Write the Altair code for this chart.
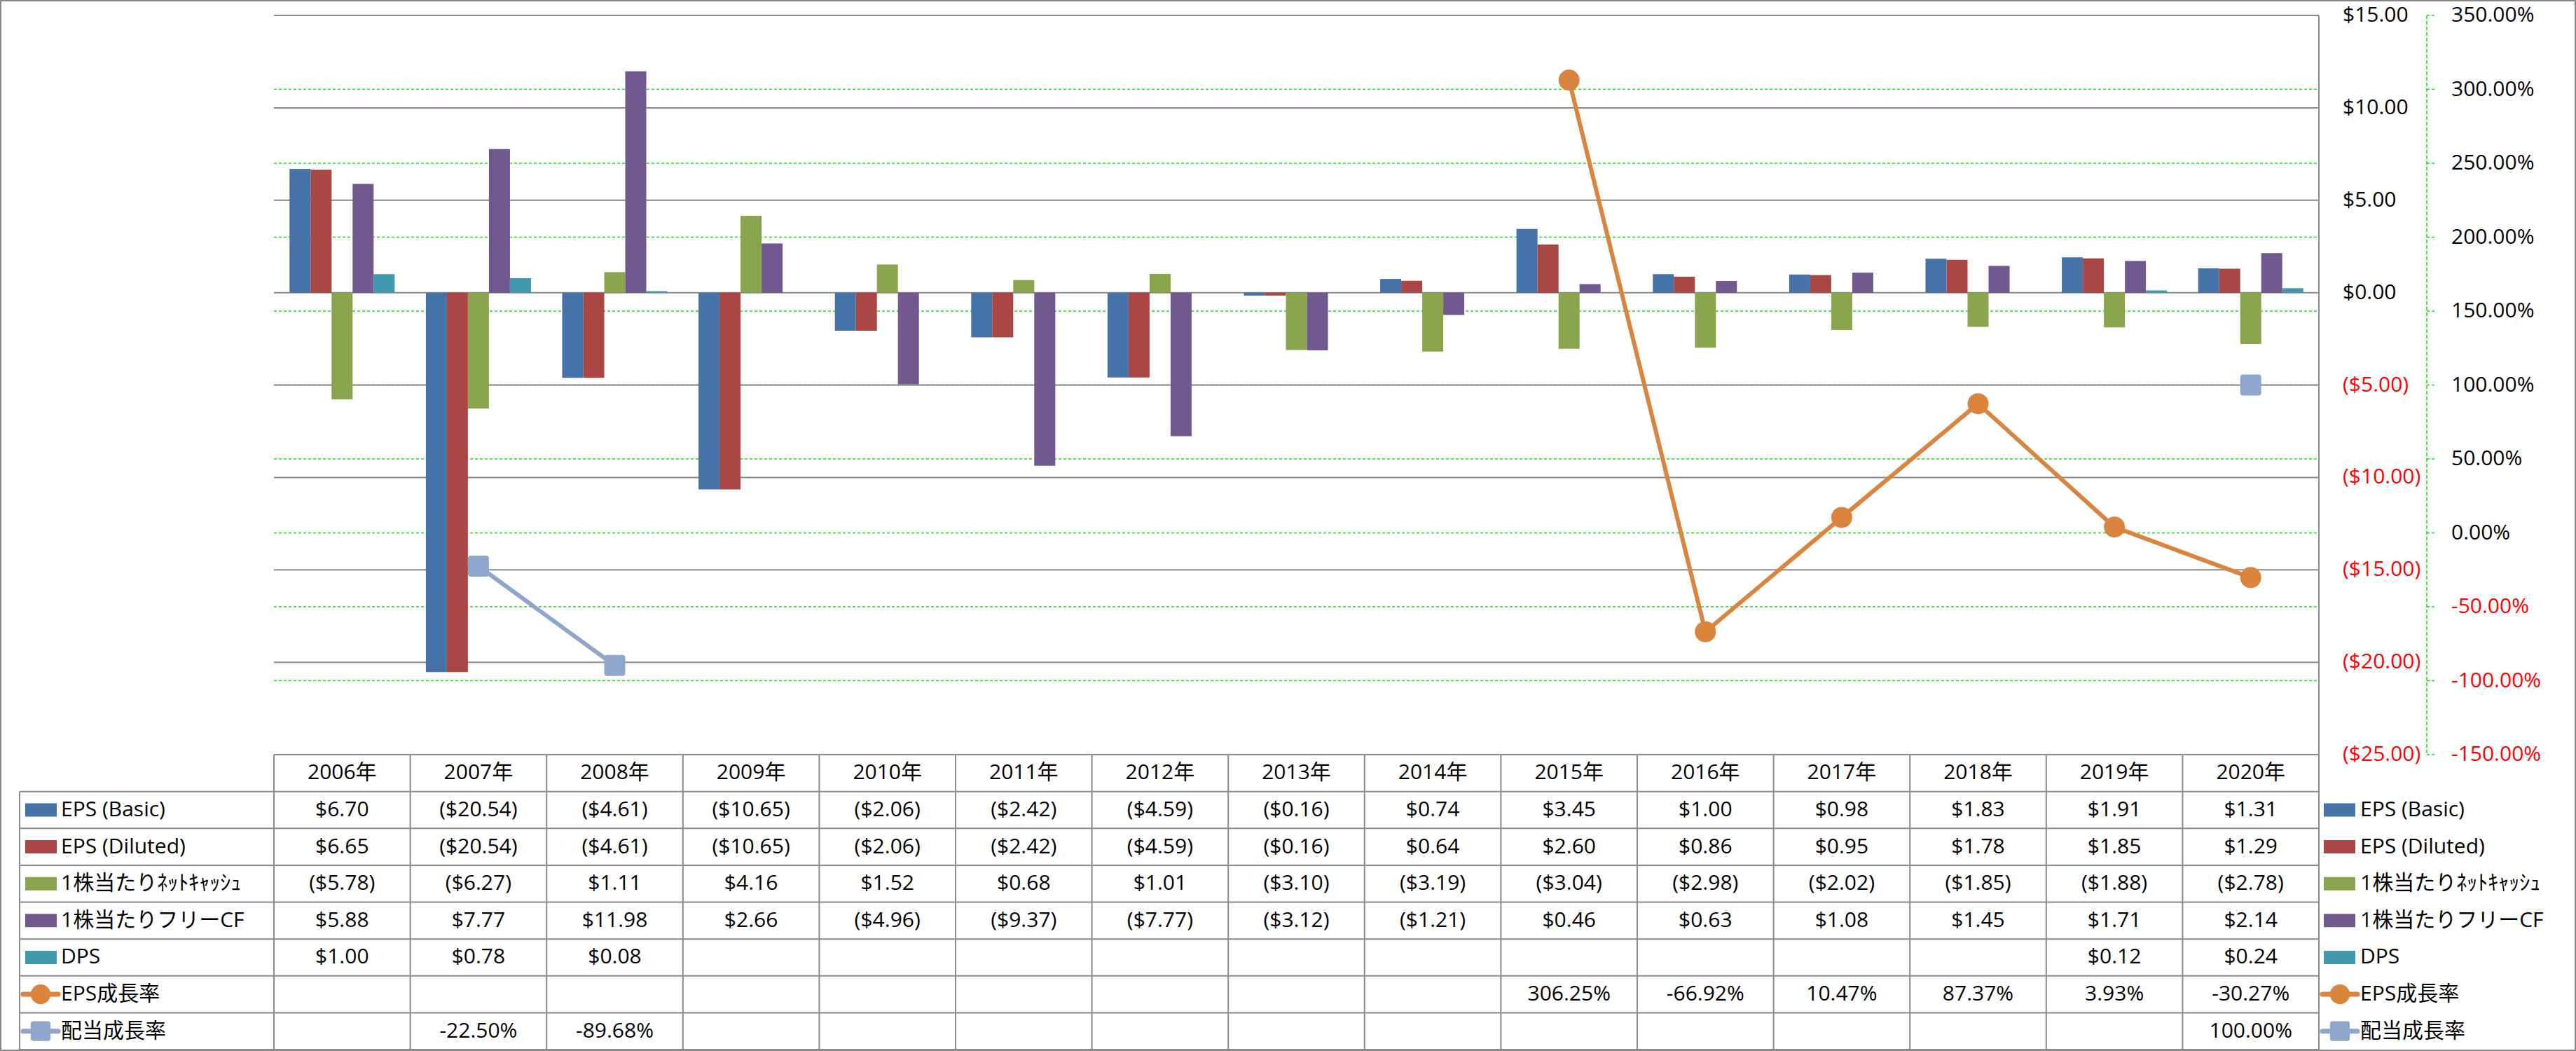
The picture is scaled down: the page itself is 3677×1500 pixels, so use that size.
import altair as alt
import pandas as pd

# ---------------- data ----------------
years = [str(y) for y in range(2006, 2021)]

bar_series = ["EPS (Basic)", "EPS (Diluted)", "1株当たりﾈｯﾄｷｬｯｼｭ", "1株当たりフリーCF", "DPS"]
line_series = ["EPS成長率", "配当成長率"]

eps_basic = [6.70, -20.54, -4.61, -10.65, -2.06, -2.42, -4.59, -0.16, 0.74, 3.45, 1.00, 0.98, 1.83, 1.91, 1.31]
eps_diluted = [6.65, -20.54, -4.61, -10.65, -2.06, -2.42, -4.59, -0.16, 0.64, 2.60, 0.86, 0.95, 1.78, 1.85, 1.29]
net_cash = [-5.78, -6.27, 1.11, 4.16, 1.52, 0.68, 1.01, -3.10, -3.19, -3.04, -2.98, -2.02, -1.85, -1.88, -2.78]
free_cf = [5.88, 7.77, 11.98, 2.66, -4.96, -9.37, -7.77, -3.12, -1.21, 0.46, 0.63, 1.08, 1.45, 1.71, 2.14]
dps = [1.00, 0.78, 0.08, None, None, None, None, None, None, None, None, None, None, 0.12, 0.24]
eps_growth = [None, None, None, None, None, None, None, None, None, 306.25, -66.92, 10.47, 87.37, 3.93, -30.27]
div_growth = [None, -22.50, -89.68, None, None, None, None, None, None, None, None, None, None, None, 100.00]

dollar_ticks = [15, 10, 5, 0, -5, -10, -15, -20, -25]
pct_ticks = [350, 300, 250, 200, 150, 100, 50, 0, -50, -100, -150]

bar_colors = ["#4572A7", "#AA4643", "#89A54E", "#71588F", "#4198AF"]
line_colors = ["#DB843D", "#8EA6CC"]

# ---------------- layout / style constants ----------------
FONT = "Open Sans, Noto Sans CJK JP, sans-serif"
FS = 30
PLOT_L, PLOT_R = 391, 3310
PLOT_T, PLOT_B = 22, 1077
TABLE_B = 1498
LABEL_L = 28
GREY = "#8A8A8A"
GREEN = "#11E011"
RED = "#FF0000"
ROUNDED_SQ = ("M-0.75,-1H0.75A0.25,0.25 0 0 1 1,-0.75V0.75A0.25,0.25 0 0 1 0.75,1"
              "H-0.75A0.25,0.25 0 0 1 -1,0.75V-0.75A0.25,0.25 0 0 1 -0.75,-1Z")

all_series = bar_series + line_series
all_colors = bar_colors + line_colors
row_keys = ["header"] + all_series


def dollar_fmt(v):
    return f"${v:.2f}" if v >= 0 else f"(${-v:.2f})"


def pct_fmt(v):
    return f"{v:.2f}%"


# ---------------- tables ----------------
bar_values = [eps_basic, eps_diluted, net_cash, free_cf, dps]
bar_rows = []
for s, vals in zip(bar_series, bar_values):
    for y, v in zip(years, vals):
        if v is not None:
            bar_rows.append({"year": y, "series": s, "value": v})
bars_df = pd.DataFrame(bar_rows)

line_rows = []
for s, vals in zip(line_series, [eps_growth, div_growth]):
    seg = 0
    prev = None
    for i, (y, v) in enumerate(zip(years, vals)):
        if v is None:
            prev = None
            continue
        if prev is None:
            seg += 1
        line_rows.append({"year": y, "series": s, "value": v, "seg": f"{s}{seg}"})
        prev = v
lines_df = pd.DataFrame(line_rows)

cell_rows = [{"year": y, "row": "header", "text": f"{y}年"} for y in years]
for s, vals in zip(bar_series, bar_values):
    for y, v in zip(years, vals):
        if v is not None:
            cell_rows.append({"year": y, "row": s, "text": dollar_fmt(v)})
for s, vals in zip(line_series, [eps_growth, div_growth]):
    for y, v in zip(years, vals):
        if v is not None:
            cell_rows.append({"year": y, "row": s, "text": pct_fmt(v)})
cells_df = pd.DataFrame(cell_rows)

dollar_df = pd.DataFrame({"v": dollar_ticks,
                          "label": [dollar_fmt(v) for v in dollar_ticks],
                          "neg": [v < 0 for v in dollar_ticks]})
pct_df = pd.DataFrame({"v": pct_ticks,
                       "label": [pct_fmt(v) for v in pct_ticks],
                       "neg": [v < 0 for v in pct_ticks]})
series_df = pd.DataFrame({"series": all_series})
bar_series_df = pd.DataFrame({"series": bar_series})
line_series_df = pd.DataFrame({"series": line_series})
years_df = pd.DataFrame({"year": years})

# ---------------- scales ----------------
x_bars = alt.Scale(type="band", domain=years, range=[PLOT_L, PLOT_R], paddingInner=0.229, paddingOuter=0.1145)
x_pts = alt.Scale(type="point", domain=years, range=[PLOT_L, PLOT_R], padding=0.5)
x_cells = alt.Scale(type="band", domain=years, range=[PLOT_L, PLOT_R], paddingInner=0, paddingOuter=0)
y_dollar = alt.Scale(domain=[-25, 15], range=[PLOT_B, PLOT_T], nice=False, zero=False)
y_pct = alt.Scale(domain=[-150, 350], range=[PLOT_B, PLOT_T], nice=False, zero=False)
y_rows_pt = alt.Scale(type="point", domain=row_keys, range=[PLOT_B, TABLE_B], padding=0.5)
y_rows_band = alt.Scale(type="band", domain=row_keys, range=[PLOT_B, TABLE_B], paddingInner=0, paddingOuter=0)
color_sc = alt.Scale(domain=all_series, range=all_colors)
shape_sc = alt.Scale(domain=line_series, range=["circle", ROUNDED_SQ])
neg_color = alt.Color("neg:N", scale=alt.Scale(domain=[False, True], range=["#000000", RED]), legend=None)

layers = []

# green dotted percent gridlines
layers.append(alt.Chart(pct_df).mark_rule(color=GREEN, strokeWidth=1.6, strokeDash=[4, 3]).encode(
    y=alt.Y("v:Q", scale=y_pct, axis=None),
    x=alt.value(PLOT_L), x2=alt.value(PLOT_R)))

# grey dollar gridlines
layers.append(alt.Chart(dollar_df).mark_rule(color=GREY, strokeWidth=2).encode(
    y=alt.Y("v:Q", scale=y_dollar, axis=None),
    x=alt.value(PLOT_L), x2=alt.value(PLOT_R)))

# bars
layers.append(alt.Chart(bars_df).mark_bar().encode(
    x=alt.X("year:N", scale=x_bars, axis=None),
    xOffset=alt.XOffset("series:N", scale=alt.Scale(domain=bar_series, paddingInner=0, paddingOuter=0)),
    y=alt.Y("value:Q", scale=y_dollar, axis=None, stack=None),
    y2=alt.datum(0),
    color=alt.Color("series:N", scale=color_sc, legend=None)))

# table vertical lines
layers.append(alt.Chart(years_df).mark_rule(color=GREY, strokeWidth=2).encode(
    x=alt.X("year:N", scale=x_cells, bandPosition=0, axis=None),
    y=alt.value(PLOT_B), y2=alt.value(TABLE_B)))
layers.append(alt.Chart(years_df.tail(1)).mark_rule(color=GREY, strokeWidth=2).encode(
    x=alt.X("year:N", scale=x_cells, bandPosition=1, axis=None),
    y=alt.value(PLOT_T), y2=alt.value(TABLE_B)))

# table horizontal lines
layers.append(alt.Chart(series_df).mark_rule(color=GREY, strokeWidth=2).encode(
    y=alt.Y("series:N", scale=y_rows_band, bandPosition=0, axis=None),
    x=alt.value(LABEL_L), x2=alt.value(PLOT_R)))
layers.append(alt.Chart(series_df.tail(1)).mark_rule(color=GREY, strokeWidth=2).encode(
    y=alt.Y("series:N", scale=y_rows_band, bandPosition=1, axis=None),
    x=alt.value(LABEL_L), x2=alt.value(PLOT_R)))
layers.append(alt.Chart(series_df.head(1)).mark_rule(color=GREY, strokeWidth=2).encode(
    y=alt.Y("series:N", scale=y_rows_band, bandPosition=0, axis=None),
    y2=alt.value(TABLE_B), x=alt.value(LABEL_L)))

# percent axis line and ticks
layers.append(alt.Chart(pct_df.head(1)).mark_rule(color=GREEN, strokeWidth=1.6, strokeDash=[5, 3]).encode(
    x=alt.value(3464), y=alt.value(PLOT_T), y2=alt.value(PLOT_B)))
layers.append(alt.Chart(pct_df).mark_rule(color=GREEN, strokeWidth=1.6, strokeDash=[4, 3]).encode(
    y=alt.Y("v:Q", scale=y_pct, axis=None),
    x=alt.value(3464), x2=alt.value(3477)))

# axis labels
layers.append(alt.Chart(dollar_df).mark_text(align="left", baseline="middle", font=FONT, fontSize=FS).encode(
    y=alt.Y("v:Q", scale=y_dollar, axis=None), x=alt.value(3344),
    text="label:N", color=neg_color))
layers.append(alt.Chart(pct_df).mark_text(align="left", baseline="middle", font=FONT, fontSize=FS).encode(
    y=alt.Y("v:Q", scale=y_pct, axis=None), x=alt.value(3499),
    text="label:N", color=neg_color))

# growth lines
layers.append(alt.Chart(lines_df).mark_line(strokeWidth=6, strokeJoin="round").encode(
    x=alt.X("year:N", scale=x_pts, axis=None),
    y=alt.Y("value:Q", scale=y_pct, axis=None),
    detail="seg:N",
    color=alt.Color("series:N", scale=color_sc, legend=None)))
layers.append(alt.Chart(lines_df).mark_point(filled=True, opacity=1, size=900).encode(
    x=alt.X("year:N", scale=x_pts, axis=None),
    y=alt.Y("value:Q", scale=y_pct, axis=None),
    shape=alt.Shape("series:N", scale=shape_sc, legend=None),
    color=alt.Color("series:N", scale=color_sc, legend=None)))

# table cells
layers.append(alt.Chart(cells_df).mark_text(baseline="middle", align="center", font=FONT, fontSize=FS,
                                            color="#000000").encode(
    x=alt.X("year:N", scale=x_pts, axis=None),
    y=alt.Y("row:N", scale=y_rows_pt, axis=None),
    text="text:N"))

# row labels (left) and legend (right)
for sw_l, sw_r, ln_l, ln_r, txt_x in [(36, 81, 33, 83, 87), (3317, 3362, 3315, 3365, 3369)]:
    layers.append(alt.Chart(bar_series_df).mark_rule(strokeWidth=19, strokeCap="butt").encode(
        y=alt.Y("series:N", scale=y_rows_pt, axis=None),
        x=alt.value(sw_l), x2=alt.value(sw_r),
        color=alt.Color("series:N", scale=color_sc, legend=None)))
    layers.append(alt.Chart(line_series_df).mark_rule(strokeWidth=7, strokeCap="round").encode(
        y=alt.Y("series:N", scale=y_rows_pt, axis=None),
        x=alt.value(ln_l), x2=alt.value(ln_r),
        color=alt.Color("series:N", scale=color_sc, legend=None)))
    layers.append(alt.Chart(line_series_df).mark_point(filled=True, opacity=1, size=800).encode(
        y=alt.Y("series:N", scale=y_rows_pt, axis=None),
        x=alt.value((ln_l + ln_r) / 2),
        shape=alt.Shape("series:N", scale=shape_sc, legend=None),
        color=alt.Color("series:N", scale=color_sc, legend=None)))
    layers.append(alt.Chart(series_df).mark_text(align="left", baseline="middle", font=FONT, fontSize=FS,
                                                 color="#000000").encode(
        y=alt.Y("series:N", scale=y_rows_pt, axis=None),
        x=alt.value(txt_x),
        text="series:N"))

chart = alt.layer(*layers).properties(
    width=3677, height=1500, padding=0,
    autosize=alt.AutoSizeParams(type="none"),
).resolve_scale(
    x="independent", y="independent", color="independent", shape="independent", xOffset="independent"
).configure_view(stroke="#888888", strokeWidth=4)

chart.save("out.html", embed_options={"renderer": "svg", "actions": False})
